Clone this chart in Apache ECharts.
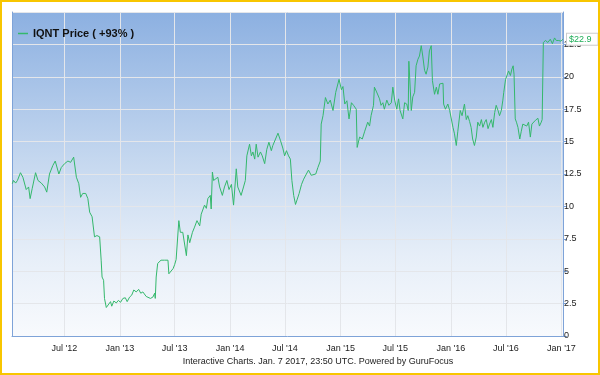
<!DOCTYPE html>
<html><head><meta charset="utf-8">
<script src="https://cdn.jsdelivr.net/npm/echarts@6/dist/echarts.min.js"></script>
<style>html,body{margin:0;padding:0;background:#fff}#c{width:600px;height:375px}</style>
</head><body><div id="c"></div>
<script>
const seriesName = "IQNT Price ( +93% )";
const footerText = "Interactive Charts. Jan. 7 2017, 23:50 UTC. Powered by GuruFocus";
const dates = [
"2012-01-11","2012-01-15","2012-01-22","2012-01-28","2012-02-07","2012-02-15","2012-02-26","2012-03-05","2012-03-10","2012-03-17",
"2012-03-28","2012-04-05","2012-04-16","2012-04-27","2012-05-04","2012-05-13","2012-05-24","2012-06-01","2012-06-13","2012-06-21",
"2012-07-02","2012-07-13","2012-07-22","2012-08-01","2012-08-07","2012-08-10","2012-08-18","2012-08-24","2012-08-31","2012-09-10",
"2012-09-17","2012-09-23","2012-10-01","2012-10-09","2012-10-17","2012-10-26","2012-10-31","2012-11-03","2012-11-08","2012-11-11",
"2012-11-17","2012-11-23","2012-12-01","2012-12-05","2012-12-12","2012-12-20","2012-12-27","2013-01-03","2013-01-11","2013-01-19",
"2013-01-25","2013-02-02","2013-02-09","2013-02-16","2013-02-24","2013-03-04","2013-03-11","2013-03-18","2013-03-24","2013-03-29",
"2013-04-04","2013-04-12","2013-04-20","2013-04-26","2013-04-28","2013-05-01","2013-05-06","2013-05-12","2013-05-17","2013-05-23",
"2013-05-29","2013-06-04","2013-06-09","2013-06-12","2013-06-18","2013-06-26","2013-07-01","2013-07-06","2013-07-12","2013-07-15",
"2013-07-20","2013-07-28","2013-08-03","2013-08-09","2013-08-14","2013-08-20","2013-08-29","2013-09-05","2013-09-13","2013-09-22",
"2013-09-27","2013-10-08","2013-10-14","2013-10-19","2013-10-27","2013-10-30","2013-11-03","2013-11-07","2013-11-13","2013-11-21",
"2013-11-27","2013-12-06","2013-12-13","2013-12-21","2013-12-28","2014-01-05","2014-01-12","2014-01-21","2014-01-26","2014-02-01",
"2014-02-06","2014-02-14","2014-02-20","2014-02-25","2014-03-06","2014-03-12","2014-03-17","2014-03-23","2014-03-28","2014-04-03",
"2014-04-11","2014-04-17","2014-04-25","2014-05-02","2014-05-09","2014-05-17","2014-05-22","2014-05-31","2014-06-08","2014-06-16",
"2014-06-24","2014-06-30","2014-07-06","2014-07-13","2014-07-19","2014-07-24","2014-07-30","2014-08-05","2014-08-10","2014-08-17",
"2014-08-25","2014-09-01","2014-09-10","2014-09-17","2014-09-26","2014-10-02","2014-10-11","2014-10-18","2014-10-26","2014-10-29",
"2014-11-04","2014-11-12","2014-11-20","2014-11-28","2014-12-07","2014-12-16","2014-12-27","2015-01-04","2015-01-09","2015-01-15",
"2015-01-22","2015-01-29","2015-02-06","2015-02-13","2015-02-22","2015-02-25","2015-03-05","2015-03-14","2015-03-22","2015-04-01",
"2015-04-07","2015-04-12","2015-04-20","2015-04-23","2015-04-29","2015-05-04","2015-05-10","2015-05-15","2015-05-21","2015-05-26",
"2015-06-03","2015-06-10","2015-06-18","2015-06-23","2015-06-29","2015-07-06","2015-07-12","2015-07-17","2015-07-26","2015-08-01",
"2015-08-08","2015-08-13","2015-08-15","2015-08-20","2015-08-23","2015-08-28","2015-09-03","2015-09-08","2015-09-14","2015-09-19",
"2015-09-25","2015-09-30","2015-10-06","2015-10-11","2015-10-17","2015-10-22","2015-10-28","2015-11-01","2015-11-08","2015-11-14",
"2015-11-19","2015-11-25","2015-11-30","2015-12-06","2015-12-08","2015-12-14","2015-12-22","2015-12-28","2016-01-03","2016-01-08",
"2016-01-13","2016-01-19","2016-01-24","2016-02-01","2016-02-07","2016-02-15","2016-02-21","2016-02-26","2016-03-03","2016-03-08",
"2016-03-13","2016-03-19","2016-03-25","2016-03-30","2016-04-05","2016-04-11","2016-04-16","2016-04-22","2016-04-27","2016-05-03",
"2016-05-08","2016-05-14","2016-05-19","2016-05-25","2016-05-30","2016-06-05","2016-06-10","2016-06-16","2016-06-21","2016-06-24",
"2016-06-30","2016-07-06","2016-07-10","2016-07-16","2016-07-21","2016-07-25","2016-07-28","2016-08-01","2016-08-05","2016-08-10",
"2016-08-16","2016-08-21","2016-08-26","2016-09-01","2016-09-08","2016-09-14","2016-09-20","2016-09-25","2016-10-01","2016-10-07",
"2016-10-15","2016-10-20","2016-10-26","2016-10-29","2016-11-02","2016-11-09","2016-11-17","2016-11-25","2016-12-02","2016-12-09",
"2016-12-15","2016-12-23","2016-12-30","2017-01-06"
];
const prices = [
11.75,12.0,11.8,12.0,12.6,12.25,11.3,11.5,10.6,11.4,
12.6,12.0,11.8,11.5,11.1,12.5,13.15,13.5,12.5,13.0,
13.3,13.5,13.4,13.8,13.8,12.25,11.75,10.7,11.0,11.0,
10.6,9.55,9.2,7.65,7.75,7.65,5.85,4.55,4.3,2.9,
2.2,2.3,2.65,2.3,2.7,2.55,2.75,2.6,2.9,2.95,
2.65,3.0,3.15,3.55,3.4,3.6,3.3,3.4,3.3,3.05,
2.9,2.9,3.0,3.3,2.9,4.55,5.6,5.75,5.85,5.75,
5.85,5.7,5.85,4.8,4.95,5.2,5.5,5.9,6.05,8.9,
8.0,8.0,7.9,6.2,7.8,7.2,8.0,8.4,8.9,8.5,
9.4,10.1,9.85,10.6,10.85,9.8,12.65,12.0,12.1,12.25,
11.5,10.85,11.5,12.0,11.3,11.7,10.1,12.9,11.5,11.4,
10.85,11.5,12.0,13.9,14.8,13.9,14.2,13.65,14.8,13.8,
14.2,13.9,13.3,14.4,14.95,14.3,14.7,15.2,15.65,15.1,
14.5,13.9,14.3,13.9,13.65,12.0,10.85,10.15,10.5,11.0,
11.7,12.1,12.5,12.8,12.4,12.25,12.5,13.0,13.5,16.35,
17.0,18.4,17.9,18.2,17.4,18.8,19.8,19.0,19.25,17.9,
18.15,16.75,18.0,17.8,17.5,14.55,15.35,15.2,15.8,16.5,
16.2,17.0,17.8,19.2,18.9,19.05,18.3,17.8,18.0,17.5,
18.2,17.8,18.0,19.2,18.2,17.5,18.3,17.4,16.75,18.0,
17.9,17.4,21.2,18.9,17.4,18.45,18.8,20.85,21.35,21.6,
22.4,21.6,20.5,20.2,20.75,22.0,22.4,19.7,18.65,19.2,
18.65,19.45,19.3,19.5,17.9,17.5,17.9,17.4,17.5,16.1,
15.6,14.7,15.8,17.4,17.0,17.9,16.7,17.0,16.55,16.1,
15.2,14.7,15.35,16.5,16.2,16.7,16.1,16.5,16.7,16.0,
16.35,16.7,16.1,17.25,17.8,17.4,17.0,17.4,18.2,18.8,
19.8,19.7,20.45,20.1,20.6,20.85,20.2,16.75,16.5,16.1,
15.2,15.8,16.35,16.5,16.2,16.5,15.35,16.35,16.5,16.65,
16.8,16.2,16.5,16.7,22.65,22.8,22.65,22.9,22.55,23.0,
22.8,22.8,22.75,22.9
];
const xMin = "2012-01-10";
const xMax = "2017-01-06";
const yMin = 0, yMax = 25, yStep = 2.5;
const monthLabels = {0: "Jan", 6: "Jul"};

const chart = echarts.init(document.getElementById('c'), null, {renderer: 'canvas'});
const lineColor = '#34b86c';
const axisBlue = '#7ea3d8';
const font = 'Liberation Sans, Arial, Helvetica, sans-serif';
chart.setOption({
  animation: false,
  backgroundColor: '#ffffff',
  grid: {
    left: 12, right: 37, top: 12, bottom: 39,
    show: true, borderWidth: 0,
    backgroundColor: new echarts.graphic.LinearGradient(0, 0, 0, 1, [
      {offset: 0, color: '#8cb0e1'},
      {offset: 0.45, color: '#c4d7ef'},
      {offset: 0.75, color: '#e6eef8'},
      {offset: 1, color: '#f8fafd'}
    ])
  },
  legend: {
    left: 13, top: 23,
    icon: 'rect', itemWidth: 10, itemHeight: 1.5, itemGap: 5,
    textStyle: {fontFamily: font, fontSize: 11, fontWeight: 'bold', color: '#111'},
    data: [seriesName]
  },
  xAxis: {
    type: 'time', min: xMin, max: xMax,
    splitNumber: 10,
    minInterval: 180 * 86400000, maxInterval: 184 * 86400000,
    axisLine: {show: true, lineStyle: {color: axisBlue, width: 1}},
    axisTick: {show: false},
    splitLine: {show: true, lineStyle: {color: '#e4e6ea', width: 1}},
    axisLabel: {
      margin: 8, fontFamily: font, fontSize: 9, color: '#222',
      showMinLabel: false, showMaxLabel: true, hideOverlap: false,
      formatter: function (v) {
        const d = new Date(v);
        const m = d.getMonth();
        if (d.getDate() !== 1 || !(m in monthLabels)) return '';
        return monthLabels[m] + " '" + String(d.getFullYear()).slice(2);
      }
    }
  },
  yAxis: [{
    type: 'value', position: 'right', min: yMin, max: yMax, interval: yStep,
    axisLine: {show: true, lineStyle: {color: axisBlue, width: 1}},
    axisTick: {show: true, length: 4, lineStyle: {color: axisBlue}},
    splitLine: {show: true, lineStyle: {color: '#e4e6ea', width: 1}},
    axisLabel: {margin: 1, fontFamily: font, fontSize: 9, color: '#222', showMaxLabel: false}
  }, {
    type: 'value', position: 'left', min: yMin, max: yMax, interval: yStep,
    axisLine: {show: true, lineStyle: {color: axisBlue, width: 1}},
    axisTick: {show: false}, axisLabel: {show: false}, splitLine: {show: false}
  }],
  series: [{
    name: seriesName, type: 'line', yAxisIndex: 0,
    data: dates.map((d, i) => [d, prices[i]]),
    showSymbol: false, symbol: 'none',
    lineStyle: {color: lineColor, width: 1},
    itemStyle: {color: lineColor},
    endLabel: {
      show: true, distance: 4,
      formatter: p => '$' + p.value[1],
      fontFamily: font, fontSize: 9, color: '#1fae58',
      backgroundColor: '#ffffff', borderColor: '#cccccc', borderWidth: 1,
      padding: [1, 6, 1, 2]
    }
  }],
  graphic: [{
    type: 'text', x: 318, y: 362,
    style: {text: footerText, fontFamily: font, fontSize: 9, fill: '#222', textAlign: 'center', textVerticalAlign: 'middle'}
  }, {
    type: 'rect', z: 100, silent: true,
    shape: {x: 1, y: 1, width: 598, height: 373},
    style: {fill: 'none', stroke: '#f8c600', lineWidth: 2}
  }]
});
</script></body></html>
